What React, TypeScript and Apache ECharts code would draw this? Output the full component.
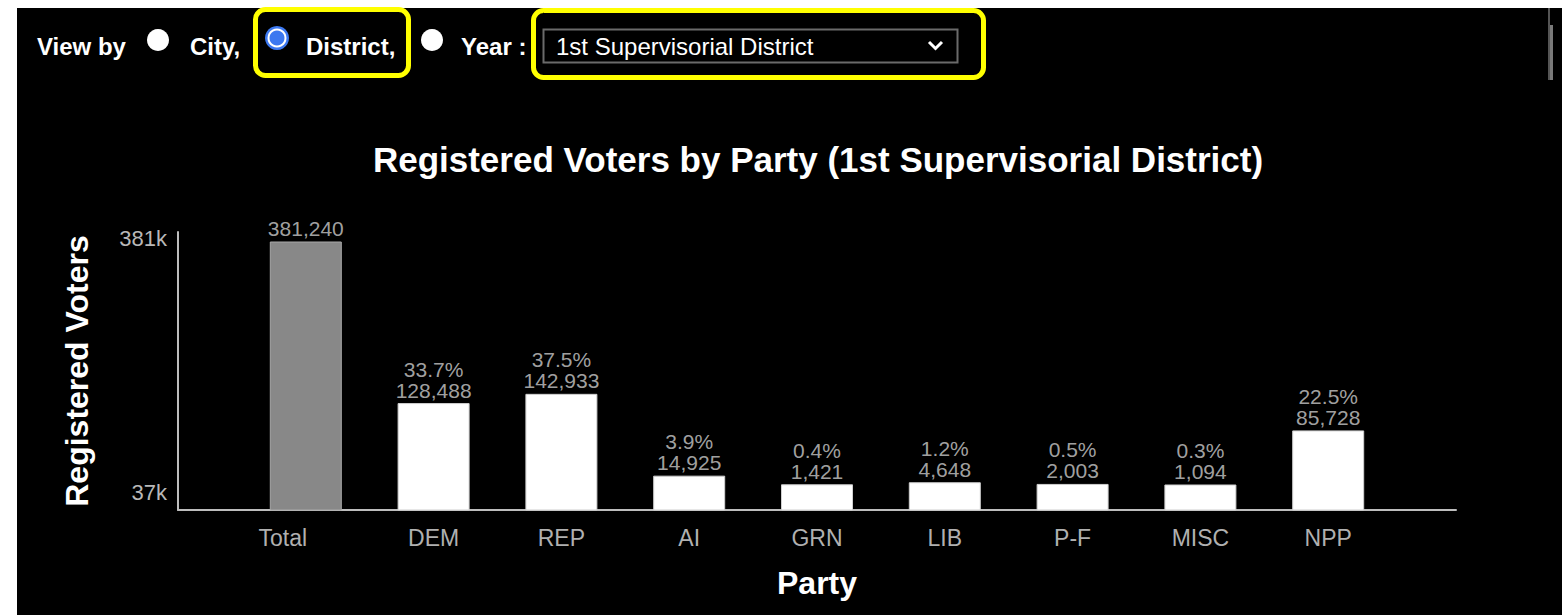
import React, { useEffect, useRef } from "react";
import * as echarts from "echarts";

// ---- data ----
const categories = ["Total", "DEM", "REP", "AI", "GRN", "LIB", "P-F", "MISC", "NPP"];
const voters = [381240, 128488, 142933, 14925, 1421, 4648, 2003, 1094, 85728];
const yTickLabels = ["37k", "381k"];
// values on the (offset) bar scale where the reference places its two y tick labels
const yTickAnchors = [-11400, 387500];
const Y_MIN = -38000;
const Y_MAX = 396900;

const viewOptions = ["City,", "District,"];
const selectedDistrict = "1st Supervisorial District";
const chartTitle = "Registered Voters by Party (1st Supervisorial District)";

const FONT = "'Liberation Sans', Arial, sans-serif";
const BAR_WIDTH = 71;

function fmt(v: number) {
  return v.toLocaleString("en-US");
}

export default function App() {
  const ref = useRef<HTMLDivElement>(null);
  useEffect(() => {
    if (!ref.current) return;
    const chart = echarts.init(ref.current, null, { renderer: "svg" });
    const total = voters[0];
    const xCats = ["", ...categories, ""];
    const points = voters.map((v, i) => [i + 1, v]);

    const headerText = (text: string, x: number, y: number, bold = true) => ({
      type: "text",
      x,
      y,
      z: 5,
      style: {
        text,
        fill: "#ffffff",
        font: `${bold ? "bold " : ""}24px ${FONT}`,
        verticalAlign: "middle",
        align: "left",
      },
    });

    chart.setOption({
      animation: false,
      backgroundColor: "#ffffff",
      title: {
        text: chartTitle,
        left: 813,
        textAlign: "center",
        top: 137,
        textStyle: { color: "#ffffff", fontSize: 35, fontWeight: "bold", fontFamily: FONT },
      },
      grid: { left: 178, right: 106, top: 232, bottom: 105, containLabel: false },
      xAxis: {
        type: "category",
        data: xCats,
        boundaryGap: false,
        name: "Party",
        nameLocation: "middle",
        nameGap: 57,
        nameTextStyle: { color: "#ffffff", fontSize: 32, fontWeight: "bold", fontFamily: FONT },
        axisLine: { show: true, onZero: false, lineStyle: { color: "#bdbdbd", width: 2 } },
        axisTick: { show: false },
        axisLabel: {
          interval: 0,
          color: "#b0b0b0",
          fontSize: 23,
          fontFamily: FONT,
          margin: 16,
          formatter: (v: string) => (v === "Total" ? "{t|Total}" : v),
          rich: {
            t: { color: "#b0b0b0", fontSize: 23, fontFamily: FONT, padding: [0, 46, 0, 0] },
          },
        },
      },
      yAxis: {
        type: "value",
        min: Y_MIN,
        max: Y_MAX,
        name: "Registered Voters",
        nameLocation: "middle",
        nameRotate: 90,
        nameGap: 85,
        nameTextStyle: { color: "#ffffff", fontSize: 32, fontWeight: "bold", fontFamily: FONT },
        splitLine: { show: false },
        axisLine: { show: true, onZero: false, lineStyle: { color: "#bdbdbd", width: 2 } },
        axisTick: { show: false },
        axisLabel: {
          customValues: yTickAnchors,
          color: "#b8b8b8",
          fontSize: 22,
          fontFamily: FONT,
          margin: 11,
          formatter: (v: number) => {
            const i = yTickAnchors.indexOf(v);
            return i >= 0 ? yTickLabels[i] : "";
          },
        },
      },
      series: [
        {
          type: "custom",
          data: points,
          encode: { x: 0, y: 1 },
          z: 3,
          renderItem: (params: any, api: any) => {
            const x = api.value(0);
            const v = api.value(1);
            const top = api.coord([x, v]);
            const base = api.coord([x, Y_MIN]);
            const isTotal = params.dataIndex === 0;
            return {
              type: "rect",
              shape: {
                x: top[0] - BAR_WIDTH / 2,
                y: top[1],
                width: BAR_WIDTH,
                height: base[1] - top[1],
              },
              style: {
                fill: isTotal ? "#888888" : "#ffffff",
                stroke: isTotal ? "#a8a8a8" : "#cfcfcf",
                lineWidth: 1,
              },
            };
          },
        },
        {
          type: "scatter",
          data: points,
          symbolSize: 0,
          itemStyle: { color: "rgba(0,0,0,0)" },
          z: 4,
          label: {
            show: true,
            position: "top",
            distance: 3,
            color: "#cccccc",
            fontSize: 21,
            lineHeight: 21,
            fontFamily: FONT,
            formatter: (p: any) => {
              const v = p.value[1] as number;
              if (p.dataIndex === 0) return fmt(v);
              return `${((v / total) * 100).toFixed(1)}%\n${fmt(v)}`;
            },
          },
        },
      ],
      graphic: [
        { type: "rect", z: -10, shape: { x: 17, y: 8, width: 1532, height: 607 }, style: { fill: "#000000" } },
        { type: "rect", z: -9, shape: { x: 1549, y: 8, width: 13, height: 607 }, style: { fill: "#000000" } },
        { type: "rect", z: -8, shape: { x: 1548, y: 8, width: 2, height: 72 }, style: { fill: "#555555" } },
        { type: "rect", z: -8, shape: { x: 1550, y: 25, width: 3, height: 55 }, style: { fill: "#7a7a7a" } },
        headerText("View by", 37, 46),
        { type: "circle", z: 5, shape: { cx: 158, cy: 40, r: 11 }, style: { fill: "#ffffff" } },
        headerText(viewOptions[0], 190, 46),
        {
          type: "rect",
          z: 5,
          shape: { x: 255.5, y: 9.5, width: 153, height: 66, r: 10 },
          style: { fill: "none", stroke: "#ffff00", lineWidth: 5 },
        },
        { type: "circle", z: 5, shape: { cx: 277, cy: 38, r: 12 }, style: { fill: "#3c78f0" } },
        { type: "circle", z: 6, shape: { cx: 277, cy: 38, r: 8.5 }, style: { fill: "none", stroke: "#ffffff", lineWidth: 2 } },
        headerText(viewOptions[1], 306, 46),
        { type: "circle", z: 5, shape: { cx: 432, cy: 40, r: 11 }, style: { fill: "#ffffff" } },
        headerText("Year :", 461, 46),
        {
          type: "rect",
          z: 5,
          shape: { x: 533.5, y: 10.5, width: 450, height: 67, r: 10 },
          style: { fill: "none", stroke: "#ffff00", lineWidth: 5 },
        },
        {
          type: "rect",
          z: 5,
          shape: { x: 543.5, y: 29.5, width: 414, height: 33 },
          style: { fill: "#000000", stroke: "#6a6a6a", lineWidth: 2 },
        },
        headerText(selectedDistrict, 556, 46, false),
        {
          type: "polyline",
          z: 6,
          shape: { points: [[929, 42], [935.5, 48.5], [942, 42]] },
          style: { stroke: "#ffffff", lineWidth: 3, fill: "none" },
        },
      ],
    });
    return () => chart.dispose();
  }, []);
  return (
    <div
      ref={ref}
      style={{ position: "fixed", left: 0, top: 0, width: 1562, height: 615 }}
    />
  );
}
